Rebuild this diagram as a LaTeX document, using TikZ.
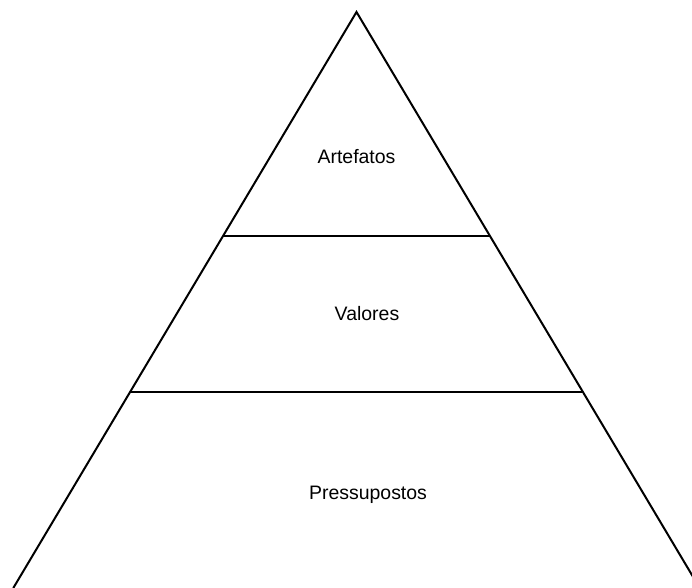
\documentclass[tikz,border=0pt]{standalone}
\usepackage{fontspec}
\setmainfont{Liberation Sans}
\begin{document}
\begin{tikzpicture}[x=0.75pt,y=-0.75pt,
  edge/.style={line width=1.5pt,line join=miter},
  label/.style={anchor=base,inner sep=0pt,font=\fontsize{14.6pt}{17pt}\selectfont}]
\useasboundingbox (0,0) rectangle (692,588);
\clip (0,0) rectangle (692,588);
\coordinate (apex) at (356.5,12);
\coordinate (bl) at (13.3,588);
\coordinate (br) at (699.7,588);
\coordinate (l1) at (223,236);
\coordinate (r1) at (490,236);
\coordinate (l2) at (130,392);
\coordinate (r2) at (583,392);
\draw[edge] (bl) -- (apex) -- (br);
\draw[edge] (l1) -- (r1);
\draw[edge] (l2) -- (r2);
\node[label] (art) at (356.5,164) {Artefatos};
\node[label] (val) at (367,320.7) {Valores};
\node[label] (pre) at (368,499) {Pressupostos};
\end{tikzpicture}
\end{document}
